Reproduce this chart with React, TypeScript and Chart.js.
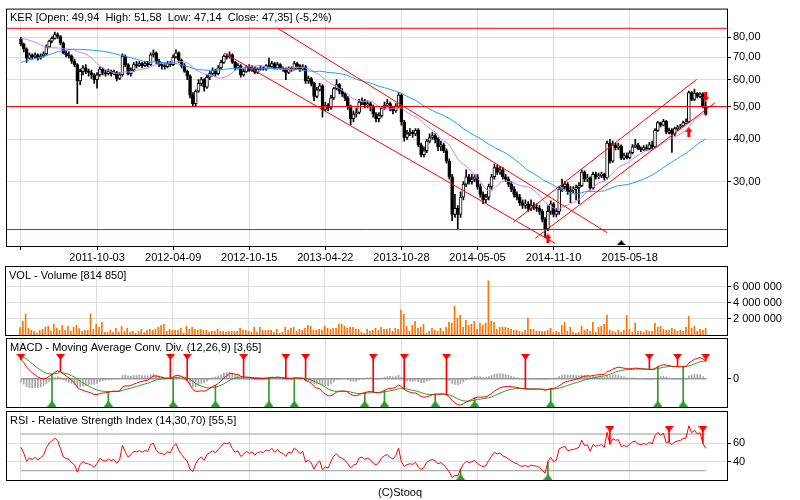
import React, { useEffect, useRef } from "react";
import { Chart, registerables } from "chart.js";
Chart.register(...registerables);

// ---------- DATA (weekly, index 0 = week of 2011-03-28) ----------
// closes before the visible window (only used to warm up the indicators)
const preCloses = [
  52, 51, 53, 54, 52, 50, 51, 53, 55, 54, 52, 53, 55, 56, 55, 54,
  54, 55, 53, 55, 56, 58, 57, 55, 56, 57, 58, 59, 58,
  59, 60, 62, 61, 63, 64, 63, 65, 66, 67, 66, 68, 69, 68, 70, 72, 72,
  74, 76, 78, 77, 79, 80, 81, 80, 82, 81, 83, 82, 81, 79,
];
const firstOpen = 79;
const closes = [
  76.5, 74, 69.5, 71, 70, 71, 69.5, 70.5, 71.5, 75,
  78, 79.5, 81.5, 80.5, 77, 72, 71, 70.5, 68, 66.5,
  59.5, 63.5, 65, 63.5, 63, 62, 60, 62, 64.5, 63,
  62.5, 63.5, 62.5, 63, 60.5, 62, 70.5, 66.5, 62.5, 64,
  66.5, 66, 67, 66, 67, 66.5, 71, 72, 68, 66.5,
  66, 65.5, 67, 66.5, 70, 72, 68.5, 66, 63.5, 61.5,
  54, 51, 55.5, 58.5, 60, 57, 61, 62.5, 64, 62.5,
  65, 67.5, 70.5, 70, 71, 67.5, 65, 66, 62, 63.5,
  65.5, 64, 65, 63, 64.5, 65, 64.5, 66, 65.5, 67,
  65, 66.5, 65, 64.5, 63, 65, 64.5, 67, 66, 64.5,
  65.5, 59.5, 60.5, 58.5, 53.5, 56, 57.5, 49, 50.5, 49.5,
  53, 56.5, 58, 55.5, 54.5, 53, 50, 46, 47.5, 48,
  51.5, 52, 50.5, 51, 50, 47.5, 46, 47, 49.5, 50.5,
  51, 49.5, 48.5, 50, 54, 45, 40.5, 41.5, 42, 41.5,
  42.5, 38.5, 36, 37, 39.5, 40.5, 41, 40, 38, 38.5,
  37, 34.5, 31, 24, 25, 24, 27, 29.5, 31, 30,
  30.5, 31, 29, 27.5, 26.5, 27, 29, 31, 33, 32,
  32.5, 31, 30.5, 29.5, 28.5, 27.5, 27, 26, 25.5, 25.8,
  25, 25.5, 25.2, 25, 24.5, 23.2, 21.8, 24.5, 25.8, 24,
  24.5, 28.5, 29, 29.5, 28, 28.3, 28.5, 28.8, 29.2, 32,
  30.5, 30.8, 28.8, 31.5, 31, 31.2, 31.6, 30.8, 39, 34.5,
  38.5, 37.8, 38.2, 35.2, 35.8, 35.3, 36.5, 38, 38.5, 37.5,
  37.2, 37.8, 37.5, 38.5, 38, 42.5, 44.8, 44, 45.2, 42,
  42.5, 41.5, 43, 43.5, 43.8, 44.8, 45, 55, 52.5, 54.8,
  53.5, 54.5, 49.94, 47.35,
];
const highs = [
  80, 77, 74.5, 72, 71.5, 72, 71.5, 71.5, 72.5, 76,
  78.5, 80.5, 83, 82.5, 81, 77.5, 73, 72.5, 71, 69,
  67, 64.5, 66, 66.5, 64.5, 64, 62.5, 63, 65.5, 65,
  64, 64.5, 64, 64, 63.5, 63, 71.5, 71, 67, 65,
  67.5, 68, 68, 67.5, 68, 68, 72, 73.5, 72.5, 69,
  67.5, 67, 68, 68, 71, 73.5, 72.5, 69, 67, 64,
  62, 55, 56, 60, 61, 60.5, 62, 63.5, 65, 64.5,
  66, 68.5, 71, 71.5, 72.5, 71.5, 68, 67, 66.5, 64.5,
  66, 66.5, 66, 65.5, 65, 66, 65.5, 66.5, 69.5, 68,
  67.5, 67.5, 67, 65.5, 65, 65.5, 65.5, 68, 67.5, 66.5,
  66.5, 66, 61.5, 61, 59, 57, 58.5, 58, 51.5, 51,
  54, 57, 60, 58.5, 56.5, 55, 53.5, 50.5, 48.5, 49.5,
  52.5, 53, 52.5, 52, 51.5, 50.5, 48, 48, 50, 51.5,
  52.5, 51.5, 50, 51, 55, 54.5, 45.5, 42.5, 43, 42.5,
  43, 43, 39, 38, 40, 41.5, 42, 41.5, 40.5, 39.5,
  39, 37.5, 35, 31.5, 27.5, 25.5, 28, 30, 32.5, 31.5,
  31.5, 31.5, 31.5, 29.5, 28, 27.5, 29.5, 31.5, 33.8, 33.5,
  33.2, 33, 31.5, 31, 30, 29, 28, 27.5, 26.5, 26.5,
  26.2, 26.5, 26, 25.8, 25.5, 24.8, 23.5, 25.5, 26.3, 26,
  25, 29, 30.5, 30, 29.8, 29, 29, 29.3, 29.8, 32.5,
  32.3, 31.5, 31, 32, 32, 31.8, 32, 31.8, 39.5, 40,
  39.5, 39, 39, 38.5, 36.4, 36.5, 37, 38.6, 40, 39,
  38, 38.3, 38.5, 39.2, 39.5, 43, 45.2, 45, 45.8, 45.5,
  43.2, 43, 43.5, 44, 44.3, 45.3, 46, 55.5, 55.3, 56.3,
  55, 55, 55, 51.58,
];
const lows = [
  75.5, 72.5, 67.5, 69, 69, 69.5, 68.5, 69, 70, 71,
  74.5, 77, 79, 79.5, 76, 71.5, 70, 69.5, 67, 65.5,
  51, 58, 62, 62.5, 61.5, 60.5, 58.5, 56.6, 61.5, 62,
  61.5, 62, 61.5, 62, 59.5, 60, 61.5, 65.5, 62, 61.5,
  63.5, 65, 65.5, 65, 65.5, 65.5, 66, 70, 67, 65.5,
  64.5, 64.5, 65, 65.5, 66, 69.5, 67.5, 65, 63, 60,
  53, 50, 50.3, 55, 57.5, 55.5, 56.5, 60, 61.5, 61.5,
  62, 64.5, 67, 69, 69.5, 67, 64, 64.5, 61, 61.5,
  63, 63.5, 63.5, 62.5, 62.5, 64, 64, 64, 65, 65,
  64.5, 64.5, 64.5, 63.5, 60, 62.5, 63.5, 64, 64.5, 63.5,
  64, 58.5, 58.5, 57.5, 52, 53, 55.5, 46.5, 48.5, 48.5,
  49, 52.5, 56, 54.5, 53.5, 52, 49, 44.2, 45, 46.5,
  47.5, 50.5, 49.5, 49.5, 48.5, 46.5, 45, 45, 46.5, 49,
  50, 48.5, 47.5, 48, 49.5, 44, 39.5, 40, 41, 40.5,
  41, 38, 35.5, 35.5, 36.5, 39, 40, 39, 37, 37,
  36.5, 34, 30.5, 23, 23.5, 21.7, 23.5, 26.5, 29, 29.5,
  29.5, 30, 28.5, 27, 25.8, 26, 26.5, 28.5, 30.5, 31.5,
  31.5, 30.5, 30, 29, 28, 27, 26.5, 25.5, 25, 25,
  24.5, 24.6, 24.8, 24.5, 24, 22.8, 20.6, 21.5, 24, 23.6,
  23.6, 24, 28, 28.5, 27.5, 26, 27.8, 26.5, 25.8, 29,
  30, 30, 28.3, 28.5, 30.5, 30.6, 30.8, 30.3, 30.5, 34,
  34.2, 37.2, 37.3, 34.8, 34.8, 35, 35, 36.2, 37.8, 37.2,
  36.8, 37, 37, 37.2, 37.5, 37.8, 42.2, 43.5, 43.8, 41.5,
  41.5, 36.6, 41, 42.5, 43, 43.5, 44.5, 44.8, 52, 52,
  53, 53, 49.5, 47.14,
];
// weekly volume, millions of shares
const volumesM = [
  0.92, 1.7, 2.6, 0.83, 0.58, 0.46, 0.25, 0.58, 0.7, 0.96,
  1.08, 0.5, 1.33, 0.83, 0.58, 1.2, 0.58, 1.08, 0.46, 0.96,
  1.2, 0.79, 0.46, 0.58, 0.58, 2.6, 0.7, 1.33, 0.96, 1.58,
  0.33, 0.33, 0.58, 0.33, 0.83, 0.33, 1.08, 0.46, 0.83, 0.33,
  0.46, 0.21, 0.46, 0.7, 0.33, 0.58, 0.7, 0.58, 0.7, 0.96,
  1.2, 1.33, 0.46, 0.7, 0.58, 0.58, 0.58, 0.83, 0.25, 1.08,
  0.7, 0.96, 0.7, 0.58, 0.7, 0.58, 0.58, 0.33, 0.46, 0.46,
  0.7, 0.46, 0.46, 0.33, 0.46, 0.46, 0.46, 0.46, 0.83, 0.58,
  0.58, 0.46, 0.33, 0.96, 0.33, 0.96, 0.58, 0.58, 0.58, 0.58,
  0.33, 0.7, 0.21, 0.33, 0.96, 0.58, 0.83, 0.96, 0.46, 0.7,
  0.58, 0.83, 1.2, 1.08, 0.58, 0.58, 0.7, 0.58, 1.08, 0.83,
  0.7, 0.83, 0.83, 1.33, 1.33, 1.08, 0.83, 0.96, 0.96, 0.7,
  0.7, 0.33, 0.21, 0.7, 0.46,
  0.58, 0.83, 0.58, 0.96, 0.7, 0.7, 0.83, 0.46, 0.83, 0.7,
  3.08, 2.58, 1.08, 0.46, 1.2, 1.7, 0.83, 0.96, 1.33, 0.21,
  0.46, 0.83, 0.58, 0.46, 0.83, 0.46, 0.96, 1.58, 1.46, 3.58,
  2.08, 2.46, 0.96, 1.83, 1.2, 1.33, 1.7, 0.7, 1.46, 1.2,
  1.46, 6.7, 1.7, 1.58, 0.7, 0.96, 0.96, 0.96, 0.83, 0.7,
  0.58, 0.58, 0.46, 0.33, 0.58, 2.08, 0.7, 0.7, 0.46, 0.46,
  0.46, 0.46, 0.58, 0.83, 0.33, 0.46, 0.33, 1.2, 1.58, 0.46,
  0.96, 0.33, 0.21, 0.33, 1.08, 0.58, 0.7, 0.46, 1.58, 0.33,
  0.96, 1.08, 1.33, 2.46, 0.58, 0.46, 0.33, 0.58, 0.33, 0.58,
  2.46, 0.7, 0.33, 1.46, 0.46, 0.46, 0.33, 0.58, 0.46, 0.46,
  1.46, 0.96, 1.08, 0.7, 0.58, 0.58, 0.83, 0.7, 0.46, 0.58,
  0.46, 0.96, 2.33, 0.83, 1.08, 0.46, 0.7, 0.58, 0.81485,
];
const gridIdx = [0, 27, 54, 81, 108, 135, 162, 189, 216];
const dateLabels = ["", "2011-10-03", "2012-04-09", "2012-10-15", "2013-04-22", "2013-10-28", "2014-05-05", "2014-11-10", "2015-05-18"];
const priceTicks = [30, 40, 50, 60, 70, 80];
const volTicks = [2000000, 4000000, 6000000];
const macdTicks = [0];
const rsiTicks = [40, 60];
const rsiLevels = [70, 30];
// drawn lines (week index, price)
const horizontalLevels = [85.1, 50, 21.65];
const channelLines = [
  [91.1, 85.1, 208, 21.2],
  [72, 72.0, 189.6, 19.7],
  [174.8, 22.8, 239.8, 60.1],
  [182.5, 20.4, 246.3, 51.3],
];
const upArrows = [[187, 20.4], [237, 42.1]];
const downArrows = [[243, 53.4]];
const eventMarks = [[213, 19.8]];
const macdSellIdx = [0, 14, 53, 59, 79, 94, 101, 125, 136, 151, 179, 223, 233, 243];
const macdBuyIdx = [11, 31, 54, 69, 88, 97, 122, 129, 147, 161, 188, 226, 235];
const rsiSellIdx = [209, 230, 242];
const rsiBuyIdx = [156, 187];

const mainTitle = "KER [Open: 49,94  High: 51,58  Low: 47,14  Close: 47,35] (-5,2%)";
const volTitle = "VOL - Volume [814 850]";
const macdTitle = "MACD - Moving Average Conv. Div. (12,26,9) [3,65]";
const rsiTitle = "RSI - Relative Strength Index (14,30,70) [55,5]";

// ---------- indicators ----------
function sma(v: number[], n: number) {
  return v.map((_, i) => {
    if (i < n - 1) return null;
    let s = 0;
    for (let k = i - n + 1; k <= i; k++) s += v[k];
    return s / n;
  });
}
function ema(v: number[], n: number) {
  const a = 2 / (n + 1);
  const out: number[] = [];
  let e = v[0];
  v.forEach((x, i) => {
    e = i === 0 ? x : e + a * (x - e);
    out.push(e);
  });
  return out;
}
function rsiWilder(v: number[], n: number) {
  const out: (number | null)[] = v.map(() => null);
  let g = 0, l = 0;
  for (let i = 1; i <= n; i++) {
    const d = v[i] - v[i - 1];
    if (d > 0) g += d; else l -= d;
  }
  g /= n; l /= n;
  out[n] = 100 - 100 / (1 + g / l);
  for (let i = n + 1; i < v.length; i++) {
    const d = v[i] - v[i - 1];
    g = (g * (n - 1) + Math.max(d, 0)) / n;
    l = (l * (n - 1) + Math.max(-d, 0)) / n;
    out[i] = l === 0 ? 100 : 100 - 100 / (1 + g / l);
  }
  return out;
}

const FONT = { family: '"Liberation Sans", Arial, Helvetica, sans-serif', size: 11 };
const GRID = "#dddddd";
const X_MIN = -5.316;
const X_MAX = 250.55;

function xScale(bottom: number, showX: boolean) {
  return {
    type: "linear",
    min: X_MIN,
    max: X_MAX,
    offset: false,
    bounds: "data",
    afterBuildTicks: (s: any) => {
      s.ticks = gridIdx.map((v) => ({ value: v }));
    },
    afterFit: (s: any) => {
      s.height = 500 - bottom;
    },
    border: { display: false },
    grid: { color: GRID, offset: false, drawTicks: showX, tickLength: 4, tickColor: "#000" },
    ticks: {
      display: showX,
      autoSkip: false,
      maxRotation: 0,
      minRotation: 0,
      padding: 1,
      color: "#000",
      font: FONT,
      callback: (_v: any, idx: number) => dateLabels[idx] ?? "",
    },
  };
}

function yScale(type: string, min: number, max: number, ticks: number[], fmt: (v: number) => string, gridOnArea = true) {
  return {
    type,
    position: "right",
    min,
    max,
    bounds: "data",
    beginAtZero: false,
    afterBuildTicks: (s: any) => {
      s.ticks = ticks.map((v) => ({ value: v }));
    },
    afterFit: (s: any) => {
      s.width = 73;
    },
    border: { display: false },
    grid: { color: GRID, drawOnChartArea: gridOnArea, drawTicks: true, tickLength: 4, tickColor: "#000" },
    ticks: { color: "#000", font: FONT, padding: 2, autoSkip: false, callback: (v: any) => fmt(Number(v)) },
  };
}

function panelPlugin(title: string) {
  return {
    id: "panelFrame",
    afterDraw(chart: any) {
      const { ctx, chartArea: a } = chart;
      ctx.save();
      ctx.strokeStyle = "#000";
      ctx.lineWidth = 1;
      ctx.strokeRect(a.left + 0.5, a.top + 0.5, a.right - a.left, a.bottom - a.top);
      ctx.fillStyle = "#000";
      ctx.font = '11px "Liberation Sans", Arial, Helvetica, sans-serif';
      ctx.textBaseline = "middle";
      ctx.textAlign = "left";
      ctx.fillText(title, a.left + 4, a.top + 9.5);
      ctx.restore();
    },
  };
}

function makeChart(canvas: HTMLCanvasElement, top: number, bottom: number, showX: boolean, y: any, datasets: any[], title: string) {
  return new Chart(canvas, {
    type: "bar",
    data: { datasets },
    options: {
      animation: false,
      responsive: false,
      events: [],
      layout: { padding: { left: 5, top, right: 0, bottom: 0 } },
      plugins: { legend: { display: false }, tooltip: { enabled: false } },
      scales: { x: xScale(bottom, showX), y },
    } as any,
    plugins: [panelPlugin(title)],
  } as any);
}

function shape(w: number, h: number, color: string, pts: number[][], rect?: number[]) {
  const c = document.createElement("canvas");
  c.width = w;
  c.height = h;
  const g = c.getContext("2d")!;
  g.fillStyle = color;
  g.beginPath();
  pts.forEach(([x, yy], k) => (k ? g.lineTo(x, yy) : g.moveTo(x, yy)));
  g.closePath();
  g.fill();
  if (rect) g.fillRect(rect[0], rect[1], rect[2], rect[3]);
  return c;
}

function lineDs(points: { x: number; y: number | null }[], color: string, order: number, width = 1) {
  return { type: "line", data: points, borderColor: color, borderWidth: width, pointRadius: 0, fill: false, order, tension: 0 };
}
function markDs(points: { x: number; y: number }[], style: any, order: number, rotation = 0) {
  return { type: "line", data: points, showLine: false, pointStyle: style, pointRadius: 5, pointRotation: rotation, order, clip: false };
}
function barDs(points: any[], color: any, thickness: number, order: number, extra: any = {}) {
  return { type: "bar", data: points, backgroundColor: color, barThickness: thickness, grouped: false, order, borderWidth: 0, ...extra };
}

export default function App() {
  const c1 = useRef<HTMLCanvasElement>(null);
  const c2 = useRef<HTMLCanvasElement>(null);
  const c3 = useRef<HTMLCanvasElement>(null);
  const c4 = useRef<HTMLCanvasElement>(null);

  useEffect(() => {
    const off = preCloses.length;
    const all = [...preCloses, ...closes];
    const opens = closes.map((c, i) => (i === 0 ? firstOpen : closes[i - 1]));
    const s15 = sma(all, 15).slice(off);
    const s45 = sma(all, 45).slice(off);
    const e12 = ema(all, 12);
    const e26 = ema(all, 26);
    const macdAll = all.map((_, i) => e12[i] - e26[i]);
    const sigAll = ema(macdAll, 9);
    const macd = macdAll.slice(off);
    const sig = sigAll.slice(off);
    const hist = macd.map((m, i) => m - sig[i]);
    const rsi = rsiWilder(all, 14).slice(off) as number[];
    const last = closes.length - 1;

    const arrowUp = shape(7, 10, "#ff0000", [[3.5, 0], [7, 5], [0, 5]], [2, 5, 3, 5]);
    const blackTri = shape(9, 5, "#000000", [[4.5, 0], [9, 5], [0, 5]]);
    const redDown = shape(9, 6, "#ff0000", [[0, 0], [9, 0], [4.5, 6]]);
    const greenUp = shape(9, 6, "#2f9a2f", [[4.5, 0], [9, 6], [0, 6]]);

    // ---- main price panel ----
    const mainDs: any[] = [
      barDs(closes.map((_, i) => ({ x: i, y: [lows[i], highs[i]] })), "#000", 1, 10),
      barDs(
        closes.map((c, i) => ({ x: i, y: [opens[i], c] })),
        closes.map((c, i) => (c >= opens[i] ? "#ffffff" : "#000000")),
        3,
        9,
        { borderColor: "#000", borderWidth: 1, borderSkipped: false }
      ),
      lineDs(s15.map((v, i) => ({ x: i, y: v })), "#c77dff", 8),
      lineDs(s45.map((v, i) => ({ x: i, y: v })), "#1e9bff", 7),
      ...horizontalLevels.map((p) => lineDs([{ x: X_MIN - 1, y: p }, { x: X_MAX + 1, y: p }], "#ff0000", 6)),
      ...channelLines.map(([i1, p1, i2, p2]) => lineDs([{ x: i1, y: p1 }, { x: i2, y: p2 }], "#ff0000", 6)),
      markDs(upArrows.map(([i, p]) => ({ x: i, y: p })), arrowUp, 1),
      markDs(downArrows.map(([i, p]) => ({ x: i, y: p })), arrowUp, 1, 180),
      markDs(eventMarks.map(([i, p]) => ({ x: i, y: p })), blackTri, 1),
    ];
    const ch1 = makeChart(
      c1.current!, 5, 246, true,
      yScale("logarithmic", 19.36, 97.3, priceTicks, (v) => v.toFixed(2).replace(".", ",")),
      mainDs, mainTitle
    );

    // ---- volume panel ----
    const ch2 = makeChart(
      c2.current!, 266, 335, false,
      yScale("linear", 0, 8540000, volTicks, (v) => String(Math.round(v)).replace(/\B(?=(\d{3})+(?!\d))/g, " ")),
      [barDs(volumesM.map((v, i) => ({ x: i, y: v * 1000000 })), "#ff7300", 1, 5)],
      volTitle
    );

    // ---- MACD panel ----
    const lo = Math.min(...macd, ...sig, ...hist);
    const hi = Math.max(...macd, ...sig, ...hist);
    const vpp = (hi - lo) / 49;
    const mMin = lo - 2 * vpp;
    const mMax = hi + 18 * vpp;
    const sellV = mMin + 50 * vpp;
    const buyV = mMin + 3.5 * vpp;
    const ch3 = makeChart(
      c3.current!, 338, 407, false,
      yScale("linear", mMin, mMax, macdTicks, (v) => String(Math.round(v)), false),
      [
        barDs(hist.map((h, i) => ({ x: i, y: [0, h] })), "#a6a6a6", 1, 9),
        lineDs([{ x: 0, y: 0 }, { x: last, y: 0 }], "#999999", 8, 1.5),
        barDs(macdSellIdx.map((i) => ({ x: i, y: [macd[i], sellV] })), "#ff0000", 1, 4),
        barDs(macdBuyIdx.map((i) => ({ x: i, y: [macd[i], buyV] })), "#2f9a2f", 1, 4),
        lineDs(sig.map((v, i) => ({ x: i, y: v })), "#2f9a2f", 3),
        lineDs(macd.map((v, i) => ({ x: i, y: v })), "#ff0000", 2),
        markDs(macdSellIdx.map((i) => ({ x: i, y: sellV })), redDown, 1),
        markDs(macdBuyIdx.map((i) => ({ x: i, y: buyV })), greenUp, 1),
      ],
      macdTitle
    );

    // ---- RSI panel ----
    const rSell = 75.2;
    const rBuy = 23.4;
    const ch4 = makeChart(
      c4.current!, 411, 480, false,
      yScale("linear", 19.9, 95.1, rsiTicks, (v) => String(Math.round(v))),
      [
        ...rsiLevels.map((lv) => lineDs([{ x: 0, y: lv }, { x: last, y: lv }], "#999999", 8)),
        barDs(rsiSellIdx.map((i) => ({ x: i, y: [rsi[i], rSell] })), "#ff0000", 1, 4),
        barDs(rsiBuyIdx.map((i) => ({ x: i, y: [rsi[i], rBuy] })), "#2f9a2f", 1, 4),
        lineDs(rsi.map((v, i) => ({ x: i, y: v })), "#ff0000", 3),
        markDs(rsiSellIdx.map((i) => ({ x: i, y: rSell })), redDown, 1),
        markDs(rsiBuyIdx.map((i) => ({ x: i, y: rBuy })), greenUp, 1),
      ],
      rsiTitle
    );

    return () => {
      ch1.destroy();
      ch2.destroy();
      ch3.destroy();
      ch4.destroy();
    };
  }, []);

  const cs: React.CSSProperties = { position: "absolute", left: 0, top: 0, width: 800, height: 500 };
  return (
    <div style={{ position: "absolute", left: 0, top: 0, width: 800, height: 500, background: "#fff", overflow: "hidden" }}>
      <canvas ref={c1} width={800} height={500} style={cs} />
      <canvas ref={c2} width={800} height={500} style={cs} />
      <canvas ref={c3} width={800} height={500} style={cs} />
      <canvas ref={c4} width={800} height={500} style={cs} />
      <div
        style={{
          position: "absolute",
          left: 0,
          top: 486,
          width: 800,
          textAlign: "center",
          font: '11px "Liberation Sans", Arial, Helvetica, sans-serif',
          lineHeight: "13px",
          color: "#000",
        }}
      >
        (C)Stooq
      </div>
    </div>
  );
}
